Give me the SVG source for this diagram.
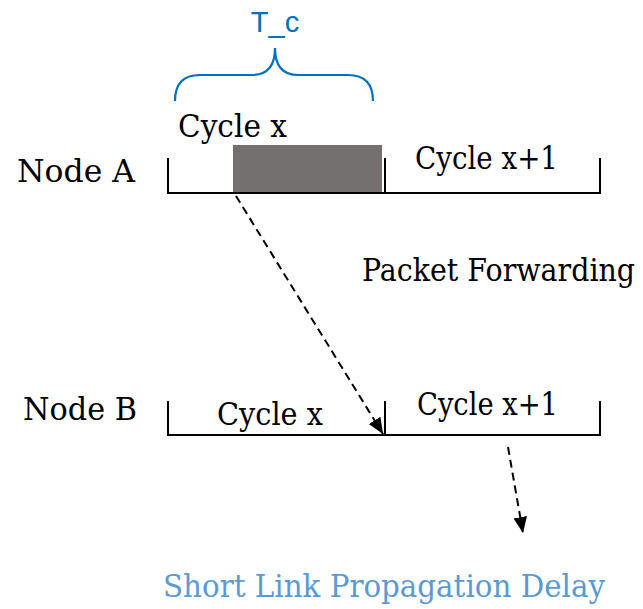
<svg xmlns="http://www.w3.org/2000/svg" width="643" height="609" viewBox="0 0 643 609">
<style>
.t{font-family:'DejaVu Serif','Liberation Serif',serif;font-size:32px;fill:#000}
.b{font-family:'DejaVu Serif','Liberation Serif',serif;font-size:32px;fill:#5B9BD5}
.ln{stroke:#000;stroke-width:2;fill:none}
.dash{stroke:#000;stroke-width:2;fill:none;stroke-dasharray:8 5}
</style>
<defs>
<marker id="ah" markerUnits="userSpaceOnUse" markerWidth="16" markerHeight="16" refX="14" refY="6" orient="auto" viewBox="0 0 14 12">
<path d="M0,0 L14,6 L0,12 Z" fill="#000"/>
</marker>
</defs>
<rect width="643" height="609" fill="#fff"/>
<g id="tc">
<path d="M175,101 Q175,75 200,75 L252,75 Q275,75 275,48 Q275,75 298,75 L348,75 Q373,75 373,101" fill="none" stroke="#0070C0" stroke-width="2.2"/>
<text x="275" y="32" text-anchor="middle" font-family="'Liberation Sans', Arial, sans-serif" font-size="29" fill="#0070C0">T_c</text>
</g>
<g id="nodeA">
<text class="t" x="17" y="182" textLength="118" lengthAdjust="spacingAndGlyphs">Node A</text>
<rect x="233" y="145" width="149" height="47" fill="#747070"/>
<path class="ln" d="M168,158 V193 H600 V158 M385,158 V193"/>
<text class="t" x="178" y="137" textLength="109" lengthAdjust="spacingAndGlyphs">Cycle x</text>
<text class="t" x="415" y="169" textLength="143" lengthAdjust="spacingAndGlyphs">Cycle x+1</text>
</g>
<g id="packetForwarding">
<text class="t" transform="translate(362,281) scale(0.82,1)" x="0" y="0" textLength="333" lengthAdjust="spacingAndGlyphs">Packet Forwarding</text>
</g>
<g id="nodeB">
<text class="t" x="23" y="420" textLength="114" lengthAdjust="spacingAndGlyphs">Node B</text>
<path class="ln" d="M168,401 V435 H600 V401 M385,401 V435"/>
<text class="t" x="217" y="425" textLength="106" lengthAdjust="spacingAndGlyphs">Cycle x</text>
<text class="t" x="417" y="415" textLength="141" lengthAdjust="spacingAndGlyphs">Cycle x+1</text>
</g>
<g id="delayLabel">
<text class="b" transform="translate(163,597) scale(0.82,1)" x="0" y="0" textLength="539" lengthAdjust="spacingAndGlyphs">Short Link Propagation Delay</text>
</g>
<g id="connectors">
<path class="dash" d="M236,196 L383,434" marker-end="url(#ah)"/>
<path class="dash" d="M508,447 L523,533" marker-end="url(#ah)"/>
</g>
</svg>
